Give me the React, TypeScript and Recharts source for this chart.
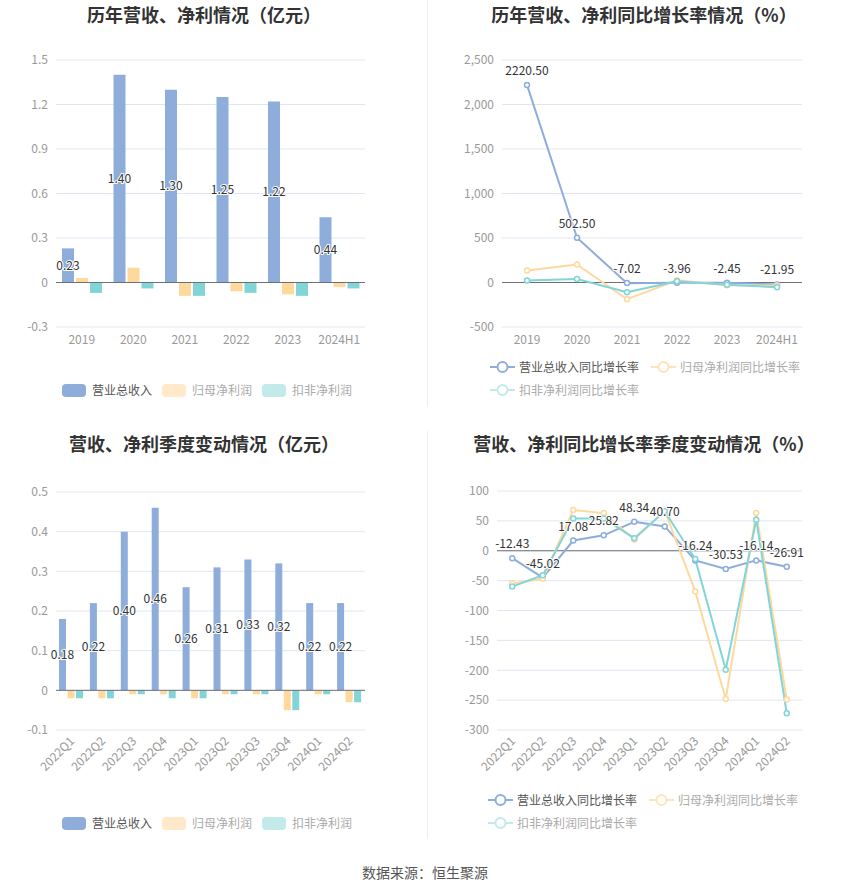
import React from "react"
import {
  BarChart,
  Bar,
  LineChart,
  Line,
  XAxis,
  YAxis,
  CartesianGrid,
  ReferenceLine,
  LabelList,
} from "recharts"

// 年度
const years = ["2019", "2020", "2021", "2022", "2023", "2024H1"]
const annualRevenue = [0.23, 1.4, 1.3, 1.25, 1.22, 0.44]
const annualNetProfit = [0.03, 0.1, -0.09, -0.06, -0.08, -0.03]
const annualDeducted = [-0.07, -0.04, -0.09, -0.07, -0.09, -0.04]
const annualRevenueGrowth = [2220.5, 502.5, -7.02, -3.96, -2.45, -21.95]
const annualNetGrowth = [135, 203, -188, 25, -30, -35]
const annualDeductedGrowth = [22, 40, -109, 15, -25, -53]

// 季度
const quarters = ["2022Q1", "2022Q2", "2022Q3", "2022Q4", "2023Q1", "2023Q2", "2023Q3", "2023Q4", "2024Q1", "2024Q2"]
const quarterRevenue = [0.18, 0.22, 0.4, 0.46, 0.26, 0.31, 0.33, 0.32, 0.22, 0.22]
const quarterNetProfit = [-0.02, -0.02, -0.01, -0.01, -0.02, -0.01, -0.01, -0.05, -0.01, -0.03]
const quarterDeducted = [-0.02, -0.02, -0.01, -0.02, -0.02, -0.01, -0.01, -0.05, -0.01, -0.03]
const quarterRevenueGrowth = [-12.43, -45.02, 17.08, 25.82, 48.34, 40.7, -16.24, -30.53, -16.14, -26.91]
const quarterNetGrowth = [-55, -47, 68, 63, 19, 67, -68, -248, 63, -249]
const quarterDeductedGrowth = [-60, -41, 54, 54, 21, 66, -14, -199, 52, -272]

const annualTicks = [-0.3, 0, 0.3, 0.6, 0.9, 1.2, 1.5]
const annualGrowthTicks = [-500, 0, 500, 1000, 1500, 2000, 2500]
const quarterTicks = [-0.1, 0, 0.1, 0.2, 0.3, 0.4, 0.5]
const quarterGrowthTicks = [-300, -250, -200, -150, -100, -50, 0, 50, 100]

const barNames = ["营业总收入", "归母净利润", "扣非净利润"]
const lineNames = ["营业总收入同比增长率", "归母净利润同比增长率", "扣非净利润同比增长率"]

const BLUE = "#8EADDB"
const ORANGE = "#FFD89C"
const TEAL = "#82D5D7"
const FONT = "'Noto Sans CJK SC', 'Noto Sans', sans-serif"

const annualBars = years.map((name, i) => ({
  name,
  revenue: annualRevenue[i],
  net: annualNetProfit[i],
  deducted: annualDeducted[i],
}))
const annualLines = years.map((name, i) => ({
  name,
  revenue: annualRevenueGrowth[i],
  net: annualNetGrowth[i],
  deducted: annualDeductedGrowth[i],
}))
const quarterBars = quarters.map((name, i) => ({
  name,
  revenue: quarterRevenue[i],
  net: quarterNetProfit[i],
  deducted: quarterDeducted[i],
}))
const quarterLines = quarters.map((name, i) => ({
  name,
  revenue: quarterRevenueGrowth[i],
  net: quarterNetGrowth[i],
  deducted: quarterDeductedGrowth[i],
}))

const pick = (p: any) => {
  const vb = p.viewBox || {}
  return {
    x: p.x ?? vb.x ?? 0,
    y: p.y ?? vb.y ?? 0,
    width: p.width ?? vb.width ?? 0,
    height: p.height ?? vb.height ?? 0,
  }
}

const barLabel = (p: any) => {
  const { x, y, width, height } = pick(p)
  return (
    <text
      x={x + width / 2}
      y={y + height / 2}
      dy="0.35em"
      textAnchor="middle"
      fontSize={12}
      fill="#333"
      stroke="#fff"
      strokeWidth={2}
      strokeLinejoin="round"
      paintOrder="stroke"
      fontFamily={FONT}
    >
      {Number(p.value).toFixed(2)}
    </text>
  )
}

const lineLabel = (p: any) => {
  const { x, y } = pick(p)
  return (
    <text
      x={x}
      y={y - 10}
      textAnchor="middle"
      fontSize={12}
      fill="#333"
      stroke="#fff"
      strokeWidth={2}
      strokeLinejoin="round"
      paintOrder="stroke"
      fontFamily={FONT}
    >
      {Number(p.value).toFixed(2)}
    </text>
  )
}

const RotatedTick = (p: any) => (
  <g transform={`translate(${p.x},${p.y})`}>
    <text
      x={0}
      y={0}
      textAnchor="end"
      dominantBaseline="central"
      transform="rotate(-45)"
      fontSize={12}
      fill="#999"
      fontFamily={FONT}
    >
      {p.payload.value}
    </text>
  </g>
)

const tickStyle = { fontSize: 12, fill: "#999", fontFamily: FONT }

function BarLegend({ top }: { top: number }) {
  const swatches = [BLUE, "#FFE9C9", "#C2EAEA"]
  const texts = ["#555", "#aaa", "#aaa"]
  return (
    <div style={{ position: "absolute", left: 62, top, display: "flex", alignItems: "center", fontSize: 12, fontFamily: FONT }}>
      {barNames.map((n, i) => (
        <div key={n} style={{ display: "flex", alignItems: "center", marginRight: 10 }}>
          <div style={{ width: 24, height: 13, borderRadius: 4, background: swatches[i], marginRight: 6 }} />
          <span style={{ color: texts[i], lineHeight: "14px" }}>{n}</span>
        </div>
      ))}
    </div>
  )
}

function LineIcon({ color }: { color: string }) {
  return (
    <svg width={25} height={14} style={{ marginRight: 4 }}>
      <line x1={0} y1={7} x2={25} y2={7} stroke={color} strokeWidth={2} />
      <circle cx={12.5} cy={7} r={5} fill="#fff" stroke={color} strokeWidth={2} />
    </svg>
  )
}

function LineLegend({ left, top }: { left: number; top: number }) {
  const icons = [BLUE, "#FFE3B8", "#C0EAEA"]
  const texts = ["#555", "#aaa", "#aaa"]
  const item = (i: number) => (
    <div style={{ display: "flex", alignItems: "center", marginRight: 12 }}>
      <LineIcon color={icons[i]} />
      <span style={{ color: texts[i], lineHeight: "14px" }}>{lineNames[i]}</span>
    </div>
  )
  return (
    <div style={{ position: "absolute", left, top, fontSize: 12, fontFamily: FONT }}>
      <div style={{ display: "flex", alignItems: "center", height: 14 }}>
        {item(0)}
        {item(1)}
      </div>
      <div style={{ display: "flex", alignItems: "center", height: 14, marginTop: 9 }}>{item(2)}</div>
    </div>
  )
}

function Title({ text, left, top, width }: { text: string; left: number; top: number; width: number }) {
  return (
    <div
      style={{
        position: "absolute",
        left,
        top,
        width,
        textAlign: "center",
        fontSize: 18,
        fontWeight: 700,
        color: "#333",
        fontFamily: FONT,
        lineHeight: "24px",
      }}
    >
      {text}
    </div>
  )
}

function BarPanel({ data, ticks, fmt, barSize, gap, height, top, rotate }: any) {
  return (
    <div style={{ position: "absolute", left: 0, top }}>
      <BarChart
        width={420}
        height={height}
        data={data}
        barSize={barSize}
        barGap={gap}
        margin={{ top: rotate ? 12 : 10, right: 55, left: 16, bottom: 0 }}
      >
        <CartesianGrid vertical={false} stroke="#E0E6F1" />
        <XAxis
          dataKey="name"
          axisLine={false}
          tickLine={false}
          interval={0}
          height={rotate ? 60 : 30}
          tick={rotate ? <RotatedTick /> : tickStyle}
        />
        <YAxis
          width={40}
          domain={[ticks[0], ticks[ticks.length - 1]]}
          ticks={ticks}
          tickFormatter={fmt}
          axisLine={false}
          tickLine={false}
          tick={tickStyle}
        />
        <ReferenceLine y={0} stroke="#6E7079" />
        <Bar dataKey="revenue" fill={BLUE} isAnimationActive={false}>
          <LabelList dataKey="revenue" content={barLabel} />
        </Bar>
        <Bar dataKey="net" fill={ORANGE} isAnimationActive={false} />
        <Bar dataKey="deducted" fill={TEAL} isAnimationActive={false} />
      </BarChart>
    </div>
  )
}

function LinePanel({ data, ticks, fmt, height, top, left, rotate }: any) {
  const dot = (c: string) => ({ r: 2.5, fill: "#fff", stroke: c, strokeWidth: 1.5 })
  return (
    <div style={{ position: "absolute", left: 425, top }}>
      <LineChart
        width={425}
        height={height}
        data={data}
        margin={{ top: rotate ? 11 : 10, right: 48, left, bottom: 0 }}
      >
        <CartesianGrid vertical={false} stroke="#E0E6F1" />
        <XAxis
          dataKey="name"
          scale="band"
          axisLine={false}
          tickLine={false}
          interval={0}
          height={rotate ? 60 : 30}
          tick={rotate ? <RotatedTick /> : tickStyle}
        />
        <YAxis
          width={45}
          domain={[ticks[0], ticks[ticks.length - 1]]}
          ticks={ticks}
          tickFormatter={fmt}
          axisLine={false}
          tickLine={false}
          tick={tickStyle}
        />
        <ReferenceLine y={0} stroke="#6E7079" />
        <Line type="linear" dataKey="revenue" stroke={BLUE} strokeWidth={2} dot={dot(BLUE)} activeDot={false} isAnimationActive={false}>
          <LabelList dataKey="revenue" content={lineLabel} />
        </Line>
        <Line type="linear" dataKey="net" stroke={ORANGE} strokeWidth={2} dot={dot(ORANGE)} activeDot={false} isAnimationActive={false} />
        <Line type="linear" dataKey="deducted" stroke={TEAL} strokeWidth={2} dot={dot(TEAL)} activeDot={false} isAnimationActive={false} />
      </LineChart>
    </div>
  )
}

const fmt1 = (v: number) => (v === 0 ? "0" : v.toFixed(1))
const fmtInt = (v: number) => v.toLocaleString("en-US")

export default function App() {
  return (
    <div style={{ position: "absolute", left: 0, top: 0, width: 850, height: 891, background: "#fff", fontFamily: FONT }}>
      <Title text="历年营收、净利情况（亿元）" left={0} top={2} width={408} />
      <Title text="历年营收、净利同比增长率情况（%）" left={425} top={2} width={438} />
      <Title text="营收、净利季度变动情况（亿元）" left={0} top={431} width={408} />
      <Title text="营收、净利同比增长率季度变动情况（%）" left={425} top={431} width={438} />

      <div style={{ position: "absolute", left: 427, top: 0, width: 1, height: 407, background: "#eee" }} />
      <div style={{ position: "absolute", left: 427, top: 431, width: 1, height: 408, background: "#eee" }} />

      <BarPanel data={annualBars} ticks={annualTicks} fmt={fmt1} barSize={12} gap={2} height={307} top={50} />
      <LinePanel data={annualLines} ticks={annualGrowthTicks} fmt={fmtInt} height={307} top={50} left={32} />
      <BarPanel data={quarterBars} ticks={quarterTicks} fmt={fmt1} barSize={7} gap={1.5} height={310} top={480} rotate />
      <LinePanel data={quarterLines} ticks={quarterGrowthTicks} fmt={fmtInt} height={310} top={480} left={27} rotate />

      <BarLegend top={383} />
      <LineLegend left={490} top={360} />
      <BarLegend top={816} />
      <LineLegend left={488} top={793} />

      <div
        style={{
          position: "absolute",
          left: 0,
          width: 850,
          top: 862,
          textAlign: "center",
          fontSize: 14,
          color: "#555",
          lineHeight: "20px",
          fontFamily: FONT,
        }}
      >
        数据来源：恒生聚源
      </div>
    </div>
  )
}
